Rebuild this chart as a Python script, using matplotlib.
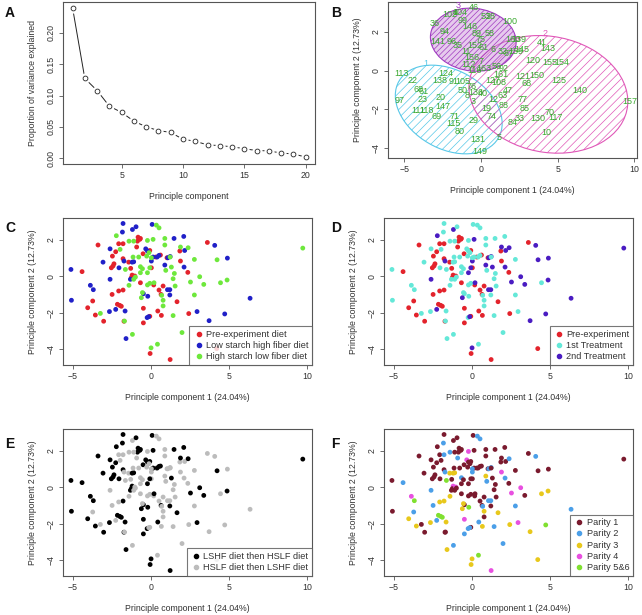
import numpy as np
import matplotlib.pyplot as plt
from matplotlib.patches import Ellipse
from matplotlib.lines import Line2D

plt.rcParams['font.family'] = ['Liberation Sans', 'DejaVu Sans']
plt.rcParams['hatch.linewidth'] = 0.5

# ---- panel A: scree plot ----
pc_index = list(range(1, 21))
var_explained = [0.2404, 0.1273, 0.108, 0.083, 0.073, 0.059, 0.050, 0.044, 0.041, 0.030,
                 0.027, 0.021, 0.020, 0.018, 0.015, 0.012, 0.0115, 0.008, 0.0066, 0.0016]

# ---- PCA scores (panels C-F), split by diet ----
# order: 1 = LSHF then HSLF, 2 = HSLF then LSHF ; parity 5 = parity 5&6
pre_pc1 = [-0.81, -0.70, -0.85, -0.66, -2.05, -1.77, -3.37, -0.90, -2.24, -2.45,
           -1.77, -2.35, -2.41, -2.52, -1.41, -1.28, -0.49, -0.06, 0.32, 0.62,
           1.04, 1.86, 1.90, -4.39, 0.04, -1.19, -1.24, -1.02, -0.66, -1.77,
           -2.05, -2.47, 0.19, 0.53, 0.66, 0.79, -3.71, -4.03, -2.13, -1.98,
           -1.88, -3.54, -3.01, -0.47, 0.45, 0.68, -0.06, -0.47, -1.71, 1.68,
           -0.04, 1.24, 2.43, 3.62, 2.37, 4.22]
pre_pc2 = [2.15, 2.03, 1.93, 2.08, 1.79, 1.79, 1.72, 1.61, 1.35, 1.11,
           0.97, 0.69, 0.57, 0.47, 0.78, 0.44, 1.24, 1.42, 1.06, 1.17,
           1.02, 1.39, 0.84, 0.26, 0.47, 0.07, -0.07, 0.02, -0.35, -0.75,
           -0.80, -0.99, -0.47, -0.75, -0.99, -0.53, -1.35, -1.72, -1.53, -1.59,
           -1.64, -2.12, -2.46, -1.75, -1.90, -2.14, -2.19, -2.55, -2.46, -1.39,
           -4.23, -4.56, -2.04, 1.86, 0.22, -3.96]
pre_order = [1, 1, 1, 1, 2, 2, 1, 2, 1, 1,
             1, 1, 1, 1, 2, 2, 1, 1, 2, 1,
             2, 2, 2, 1, 2, 1, 1, 2, 2, 1,
             2, 2, 2, 2, 1, 2, 2, 1, 1, 1,
             1, 1, 1, 1, 1, 2, 2, 1, 1, 1,
             1, 1, 2, 2, 2, 2]
pre_parity = [1, 1, 1, 1, 1, 2, 1, 2, 1, 1,
              1, 1, 1, 1, 3, 1, 1, 1, 1, 1,
              1, 1, 4, 2, 1, 4, 1, 4, 1, 3,
              3, 2, 1, 1, 1, 1, 2, 3, 5, 5,
              5, 3, 1, 4, 2, 3, 1, 2, 1, 3,
              3, 4, 3, 1, 1, 3]

lshf_pc1 = [-1.77, 0.09, -1.81, -1.17, -0.94, -2.60, -3.05, -2.03, -1.71, -1.19,
            -1.09, -0.32, -0.21, 0.04, 0.15, 0.53, 0.41, 1.09, 1.24, 1.49,
            2.11, 2.17, 0.90, 2.13, -5.10, -2.60, -1.30, -3.86, -3.67, -0.47,
            -0.19, 1.07, 1.22, 1.22, -5.07, -2.64, -2.24, -1.64, -0.23, -0.13,
            -1.58, 4.09, 4.90, 6.35, 2.96, 4.73, 3.73]
lshf_pc2 = [2.90, 2.85, 2.43, 2.57, 2.72, 1.51, 0.78, 0.47, 0.84, 0.78,
            0.80, 1.51, 1.39, 0.84, 1.06, 1.15, 1.06, 1.02, 1.09, 2.08,
            2.19, 1.42, 0.62, 0.51, 0.38, -0.16, -0.16, -0.49, -0.73, -0.95,
            -1.09, -0.73, -0.73, -1.02, -1.31, -1.93, -1.81, -1.90, -2.26, -2.21,
            -3.41, 1.70, 1.00, -1.20, -1.93, -2.06, -2.43]
lshf_order = [1, 1, 1, 2, 1, 1, 1, 1, 2, 1,
              1, 1, 1, 2, 1, 1, 1, 2, 2, 1,
              1, 2, 2, 2, 1, 2, 1, 1, 1, 1,
              1, 2, 2, 1, 1, 1, 2, 1, 1, 2,
              1, 2, 2, 2, 1, 2, 2]
lshf_parity = [1, 1, 2, 1, 1, 1, 1, 1, 2, 3,
               3, 4, 1, 2, 1, 1, 1, 2, 2, 1,
               1, 1, 3, 2, 1, 2, 1, 4, 5, 1,
               5, 2, 2, 1, 1, 3, 2, 3, 2, 2,
               3, 2, 1, 2, 4, 5, 3]

hslf_pc1 = [-2.20, 0.36, 0.53, -1.39, -1.09, -0.21, 0.15, 0.90, -1.96, -1.13,
            -0.77, -0.26, -0.11, 0.04, 0.90, 1.24, 1.90, 2.39, -1.62, -0.66,
            -0.53, -0.21, -0.06, 0.96, 1.32, -0.98, -1.09, -1.39, -0.66, -0.21,
            -0.06, 0.21, 1.51, 1.43, 1.56, -0.53, -0.60, 0.79, 0.79, 0.70,
            -3.22, -1.68, 1.43, -1.17, 2.00, 0.43, 0.02, 2.79, 4.24, 3.13,
            2.54, 3.39, 4.46, 4.88, 2.79, 9.72]
hslf_pc2 = [2.23, 2.81, 2.66, 1.93, 1.93, 1.97, 2.03, 2.08, 1.48, 1.06,
            1.06, 1.11, 1.30, 1.02, 1.72, 1.06, 1.61, 1.57, 0.38, 0.53,
            0.42, 0.20, 0.47, 0.33, 0.51, -0.04, -0.16, -0.49, 0.20, -0.47,
            -0.38, -0.35, 0.16, -0.13, -0.53, -0.89, -1.17, -1.31, -1.62, -1.04,
            -2.03, -2.45, -2.15, -3.18, -3.08, -3.72, -3.92, 0.93, 0.91, -0.02,
            -0.31, -0.44, -0.35, -0.20, -1.02, 1.55]
hslf_order = [1, 2, 2, 2, 2, 2, 1, 2, 2, 2,
              2, 2, 2, 2, 2, 2, 1, 1, 2, 2,
              2, 1, 1, 2, 1, 2, 2, 2, 2, 2,
              2, 1, 2, 2, 2, 2, 1, 2, 2, 2,
              2, 2, 2, 2, 2, 2, 1, 2, 1, 1,
              1, 1, 2, 1, 2, 1]
hslf_parity = [1, 2, 2, 2, 1, 4, 1, 1, 1, 1,
               1, 1, 1, 2, 1, 1, 1, 2, 5, 2,
               1, 1, 1, 2, 1, 1, 1, 3, 1, 1,
               1, 1, 1, 1, 1, 3, 3, 3, 1, 2,
               1, 1, 2, 2, 2, 5, 3, 1, 1, 4,
               4, 1, 3, 3, 2, 1]

# ---- panel B: cluster plot (sample labels) ----
b_labels = ['36', '46', '100', '141', '41', '143', '145', '120', '155', '154',
            '113', '124', '22', '138', '91', '105', '121', '150', '125', '68',
            '68', '61', '140', '97', '23', '20', '147', '157', '47', '77',
            '85', '88', '12', '19', '74', '111', '118', '69', '71', '115',
            '80', '29', '33', '84', '130', '70', '117', '10', '131', '5',
            '149', '94', '102', '4', '104', '99', '146', '53', '28', '89',
            '75', '58', '160', '139', '96', '35', '11', '152', '61', '6',
            '32', '87', '156', '7', '112', '116', '163', '56', '92', '161',
            '127', '108', '76', '50', '8', '3', '136', '40', '63', '159']
b_pc1 = [-3.00, -0.43, 1.89, -2.78, 3.96, 4.39, 2.65, 3.41, 4.50, 5.26,
         -5.17, -2.28, -4.46, -2.67, -1.80, -1.15, 2.76, 3.63, 5.10, 2.98,
         -4.04, -3.76, 6.46, -5.28, -3.80, -2.63, -2.46, 9.72, 1.78, 2.72,
         2.87, 1.46, 0.80, 0.37, 0.70, -4.09, -3.54, -2.89, -1.70, -1.80,
         -1.37, -0.50, 2.50, 2.07, 3.74, 4.46, 4.89, 4.24, -0.17, 1.17,
         -0.07, -2.40, -2.00, -1.70, -1.40, -1.20, -0.70, 0.30, 0.60, -0.30,
         0.00, 0.60, 2.10, 2.50, -1.90, -1.50, -1.00, -0.40, 0.20, 0.80,
         1.40, 1.80, -0.60, 0.00, -0.80, -0.40, 0.20, 1.00, 1.50, 1.30,
         0.80, 1.20, -0.60, -1.20, -0.90, -0.50, -0.30, 0.10, 1.40, 2.30]
b_pc2 = [2.44, 3.25, 2.53, 1.52, 1.47, 1.16, 1.08, 0.53, 0.41, 0.44,
         -0.12, -0.12, -0.50, -0.53, -0.58, -0.58, -0.29, -0.24, -0.50, -0.67,
         -0.97, -1.09, -1.04, -1.52, -1.47, -1.40, -1.83, -1.57, -1.00, -1.49,
         -1.95, -1.78, -1.47, -1.95, -2.38, -2.03, -2.07, -2.38, -2.34, -2.72,
         -3.11, -2.55, -2.46, -2.68, -2.46, -2.17, -2.41, -3.20, -3.54, -3.45,
         -4.14, 2.00, 2.90, 3.00, 3.00, 2.60, 2.30, 2.80, 2.80, 1.90,
         1.60, 1.90, 1.60, 1.60, 1.50, 1.30, 1.00, 1.30, 1.20, 1.10,
         1.00, 0.90, 0.70, 0.50, 0.30, 0.00, 0.10, 0.20, 0.10, -0.20,
         -0.50, -0.60, -0.80, -1.00, -1.30, -1.60, -1.10, -1.20, -1.30, 1.00]
# cluster ellipses: centre x, centre y, half width, half height, angle, label spot
clusters = ['1', '2', '3']
clu_x = [-2.1, 4.4, -0.5]
clu_y = [-2.0, -1.22, 1.6]
clu_a = [3.6, 5.2, 2.8]
clu_b = [2.1, 3.0, 1.62]
clu_ang = [-18, -6, -4]
clu_lab_x = [-3.6, 4.2, -1.5]
clu_lab_y = [0.35, 1.9, 3.38]

# colours
diet_col = {'P': '#e3232c', 'L': '#2020c8', 'H': '#6ee83c'}
trt_col = {'Pre': '#e3232c', '1st': '#64e8d8', '2nd': '#4a1cc2'}
order_col = {1: '#000000', 2: '#bcbcbc'}
parity_col = {1: '#7a1a2e', 2: '#4b9fe8', 3: '#e8c81c', 4: '#e850e0', 5: '#80e030'}
clu_col = ['#58c8e8', '#e058b8', '#a03cc0']
txt_col = '#333333'

pc1 = pre_pc1 + lshf_pc1 + hslf_pc1
pc2 = pre_pc2 + lshf_pc2 + hslf_pc2
diet = ['P'] * len(pre_pc1) + ['L'] * len(lshf_pc1) + ['H'] * len(hslf_pc1)
order = pre_order + lshf_order + hslf_order
parity = pre_parity + lshf_parity + hslf_parity
treat = []
for d, o in zip(diet, order):
    if d == 'P':
        treat.append('Pre')
    elif (d == 'L') == (o == 1):
        treat.append('1st')
    else:
        treat.append('2nd')

fig = plt.figure(figsize=(6.42, 6.15), dpi=100)


def style_axes(ax, xlabel, ylabel):
    for s in ax.spines.values():
        s.set_color('#555555')
        s.set_linewidth(0.8)
    ax.tick_params(direction='out', length=3, width=0.6, colors='#555555',
                   labelsize=6.3, labelcolor=txt_col, pad=2)
    for lab in ax.get_yticklabels():
        lab.set_rotation(90)
        lab.set_va('center')
    ax.set_xlabel(xlabel, fontsize=6.3, color=txt_col, labelpad=9)
    ax.set_ylabel(ylabel, fontsize=6.3, color=txt_col, labelpad=7)


pc_xlab = 'Principle component 1 (24.04%)'
pc_ylab = 'Principle component 2 (12.73%)'

# A
axA = fig.add_axes([0.0977, 0.7333, 0.393, 0.2639])
axA.plot(pc_index, var_explained, color='#222222', lw=0.7, zorder=1)
axA.scatter(pc_index, var_explained, s=40, color='white', zorder=2)
axA.scatter(pc_index, var_explained, s=12, facecolor='white', edgecolor='#222222',
            linewidths=0.6, zorder=3)
axA.set_xlim(0.2, 20.76)
axA.set_ylim(-0.0095, 0.25)
axA.set_xticks([5, 10, 15, 20])
axA.set_yticks([0.0, 0.05, 0.10, 0.15, 0.20])
axA.set_yticklabels(['0.00', '0.05', '0.10', '0.15', '0.20'])
style_axes(axA, 'Principle component', 'Proportion of variance explained')

# B
axB = fig.add_axes([0.6044, 0.7431, 0.3878, 0.2536])
for i in range(len(clusters)):
    if i == 2:
        fill = Ellipse((clu_x[i], clu_y[i]), 2 * clu_a[i], 2 * clu_b[i], angle=clu_ang[i],
                       facecolor='#c98ad8', edgecolor='none', alpha=0.45)
        axB.add_patch(fill)
    e = Ellipse((clu_x[i], clu_y[i]), 2 * clu_a[i], 2 * clu_b[i], angle=clu_ang[i],
                facecolor='none', edgecolor=clu_col[i], lw=0.8,
                hatch='//////' if i == 2 else '////')
    axB.add_patch(e)
    axB.text(clu_lab_x[i], clu_lab_y[i], clusters[i], color=clu_col[i], fontsize=6.5,
             ha='center', va='center')
for lab, x, y in zip(b_labels, b_pc1, b_pc2):
    axB.text(x, y, lab, color='#3aa830', fontsize=6.5, ha='center', va='center')
axB.set_xlim(-6.06, 10.18)
axB.set_ylim(-4.5, 3.54)
axB.set_xticks([-5, 0, 5, 10])
axB.set_yticks([-4, -2, 0, 2])
style_axes(axB, pc_xlab, pc_ylab)

# C - F
panel_boxes = [[0.0981, 0.4065, 0.3879, 0.239], [0.5981, 0.4065, 0.3879, 0.239],
               [0.0981, 0.0634, 0.3879, 0.239], [0.5981, 0.0634, 0.3879, 0.239]]
groupings = [
    ([diet_col[d] for d in diet], ['Pre-experiment diet', 'Low starch high fiber diet',
                                   'High starch low fiber diet'],
     [diet_col['P'], diet_col['L'], diet_col['H']]),
    ([trt_col[t] for t in treat], ['Pre-experiment', '1st Treatment', '2nd Treatment'],
     [trt_col['Pre'], trt_col['1st'], trt_col['2nd']]),
    ([order_col[o] for o in order], ['LSHF diet then HSLF diet', 'HSLF diet then LSHF diet'],
     [order_col[1], order_col[2]]),
    ([parity_col[p] for p in parity], ['Parity 1', 'Parity 2', 'Parity 3', 'Parity 4',
                                       'Parity 5&6'],
     [parity_col[k] for k in [1, 2, 3, 4, 5]]),
]
for box, (cols, names, lcols) in zip(panel_boxes, groupings):
    ax = fig.add_axes(box)
    ax.scatter(pc1, pc2, s=12, c=cols, linewidths=0)
    ax.set_xlim(-5.61, 10.31)
    ax.set_ylim(-4.86, 3.2)
    ax.set_xticks([-5, 0, 5, 10])
    ax.set_yticks([-4, -2, 0, 2])
    style_axes(ax, pc_xlab, pc_ylab)
    handles = [Line2D([], [], ls='none', marker='o', ms=3, color=c) for c in lcols]
    leg = ax.legend(handles, names, loc='lower right', borderaxespad=0, fontsize=6.6,
                    frameon=True, fancybox=False, handletextpad=0.2, handlelength=1.2,
                    borderpad=0.4, labelspacing=0.25, labelcolor=txt_col)
    leg.get_frame().set_edgecolor('#555555')
    leg.get_frame().set_linewidth(0.8)

for lab, x, y in [('A', 0.008, 0.972), ('B', 0.516, 0.972), ('C', 0.008, 0.622),
                  ('D', 0.516, 0.622), ('E', 0.008, 0.272), ('F', 0.516, 0.272)]:
    fig.text(x, y, lab, fontsize=10, fontweight='bold', color='#111111')

fig.savefig('out.png', dpi=100)
